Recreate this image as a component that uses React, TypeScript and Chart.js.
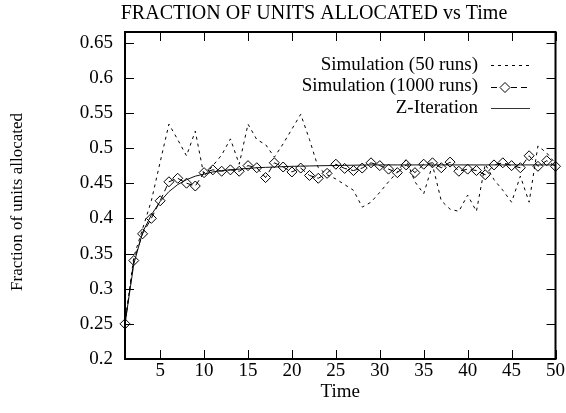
import React, { useEffect, useRef } from "react";
import { Chart, registerables } from "chart.js";

Chart.register(...registerables);

const chartTitle = "FRACTION OF UNITS ALLOCATED vs Time";
const xTitle = "Time";
const yTitle = "Fraction of units allocated";

const time = [1, 2, 3, 4, 5, 6, 7, 8, 9, 10, 11, 12, 13, 14, 15, 16, 17, 18, 19, 20, 21, 22, 23, 24, 25, 26, 27, 28, 29, 30, 31, 32, 33, 34, 35, 36, 37, 38, 39, 40, 41, 42, 43, 44, 45, 46, 47, 48, 49, 50];

const sim50 = [
  0.25, 0.345, 0.385, 0.425, 0.48, 0.534, 0.512, 0.489, 0.524, 0.46,
  0.475, 0.49, 0.513, 0.477, 0.534, 0.512, 0.505, 0.487, 0.506, 0.527,
  0.548, 0.512, 0.472, 0.462, 0.456, 0.448, 0.44, 0.416, 0.423, 0.437,
  0.452, 0.466, 0.484, 0.452, 0.435, 0.476, 0.425, 0.413, 0.41, 0.433,
  0.41, 0.477, 0.455, 0.44, 0.423, 0.46, 0.423, 0.503, 0.493, 0.478,
];

const sim1000 = [
  0.25, 0.34, 0.378, 0.4, 0.425, 0.452, 0.457, 0.45, 0.446, 0.465,
  0.469, 0.467, 0.469, 0.467, 0.475, 0.472, 0.458, 0.479, 0.473, 0.466,
  0.4715, 0.461, 0.457, 0.464, 0.477, 0.471, 0.468, 0.4715, 0.479, 0.475,
  0.47, 0.465, 0.476, 0.465, 0.477, 0.479, 0.472, 0.48, 0.467, 0.47,
  0.468, 0.462, 0.476, 0.479, 0.475, 0.472, 0.489, 0.474, 0.482, 0.474,
];

const zIter = [
  0.25, 0.335, 0.38, 0.405, 0.424, 0.438, 0.448, 0.455, 0.46, 0.463,
  0.466, 0.468, 0.469, 0.47, 0.471, 0.472, 0.4725, 0.473, 0.4735, 0.474,
  0.4742, 0.4745, 0.4748, 0.475, 0.4752, 0.4754, 0.4756, 0.4758, 0.476, 0.476,
  0.476, 0.476, 0.476, 0.476, 0.476, 0.476, 0.476, 0.476, 0.476, 0.476,
  0.476, 0.476, 0.476, 0.476, 0.476, 0.476, 0.476, 0.476, 0.476, 0.476,
];

const seriesNames = ["Simulation (50 runs)", "Simulation (1000 runs)", "Z-Iteration"];

const xTicks = [5, 10, 15, 20, 25, 30, 35, 40, 45, 50];
const yTicks = [0.2, 0.25, 0.3, 0.35, 0.4, 0.45, 0.5, 0.55, 0.6, 0.65];
const yTickLabels = ["0.2", "0.25", "0.3", "0.35", "0.4", "0.45", "0.5", "0.55", "0.6", "0.65"];

const FONT = "'Liberation Serif', 'DejaVu Serif', serif";

const framePlugin = {
  id: "gnuframe",
  afterDraw(chart: any) {
    const { ctx, chartArea: a, scales } = chart;
    const x = scales.x;
    const y = scales.y;
    ctx.save();
    ctx.strokeStyle = "#000";
    ctx.lineWidth = 1;
    ctx.setLineDash([]);
    const tl = 9;
    ctx.beginPath();
    for (const v of xTicks) {
      const px = Math.round(x.getPixelForValue(v)) + 0.5;
      ctx.moveTo(px, a.bottom);
      ctx.lineTo(px, a.bottom - tl);
      ctx.moveTo(px, a.top);
      ctx.lineTo(px, a.top + tl);
    }
    for (const v of yTicks) {
      const py = Math.round(y.getPixelForValue(v)) + 0.5;
      ctx.moveTo(a.left, py);
      ctx.lineTo(a.left + tl, py);
      ctx.moveTo(a.right, py);
      ctx.lineTo(a.right - tl, py);
    }
    ctx.stroke();
    ctx.lineWidth = 2;
    ctx.strokeRect(a.left, a.top, a.right - a.left, a.bottom - a.top);

    // titles
    ctx.fillStyle = "#000";
    ctx.font = `20px ${FONT}`;
    ctx.textAlign = "center";
    ctx.textBaseline = "middle";
    ctx.fillText(chartTitle, 314, 14);
    ctx.font = `19px ${FONT}`;
    ctx.fillText(xTitle, (a.left + a.right) / 2, 392);
    ctx.save();
    ctx.translate(18, 202);
    ctx.rotate(-Math.PI / 2);
    ctx.font = `17px ${FONT}`;
    ctx.fillText(yTitle, 0, 0);
    ctx.restore();

    // legend
    const textRight = 478;
    const s0 = 491;
    const s1 = 530;
    const rows = [65, 86.5, 108];
    const dashes = [[3, 4], [6, 4], []];
    ctx.font = `19px ${FONT}`;
    ctx.textAlign = "right";
    chart.data.datasets.forEach((ds: any, i: number) => {
      const ry = rows[i];
      ctx.fillStyle = "#000";
      ctx.fillText(seriesNames[i], textRight, ry);
      ctx.save();
      ctx.strokeStyle = i === 2 ? "#333" : "#000";
      ctx.lineWidth = 1;
      ctx.setLineDash(dashes[i]);
      ctx.beginPath();
      ctx.moveTo(s0, Math.round(ry) + 0.5);
      ctx.lineTo(s1, Math.round(ry) + 0.5);
      ctx.stroke();
      ctx.restore();
      if (i === 1) {
        const cx = 505;
        const cy = Math.round(ry) + 0.5;
        const r = 5;
        ctx.save();
        ctx.fillStyle = "#fff";
        ctx.strokeStyle = "#000";
        ctx.lineWidth = 1;
        ctx.setLineDash([]);
        ctx.beginPath();
        ctx.moveTo(cx - r, cy);
        ctx.lineTo(cx, cy - r);
        ctx.lineTo(cx + r, cy);
        ctx.lineTo(cx, cy + r);
        ctx.closePath();
        ctx.fill();
        ctx.stroke();
        ctx.restore();
      }
    });
    ctx.restore();
  },
};

export default function App() {
  const ref = useRef<HTMLCanvasElement | null>(null);

  useEffect(() => {
    if (!ref.current) return;
    Chart.defaults.font.family = FONT;
    Chart.defaults.color = "#000";
    const toXY = (arr: number[]) => arr.map((v, i) => ({ x: time[i], y: v }));
    const chart = new Chart(ref.current, {
      type: "line",
      data: {
        datasets: [
          {
            label: seriesNames[0],
            data: toXY(sim50),
            borderColor: "#000",
            borderWidth: 1,
            borderDash: [3, 4],
            pointRadius: 0,
            fill: false,
          },
          {
            label: seriesNames[1],
            data: toXY(sim1000),
            borderColor: "#000",
            borderWidth: 1,
            borderDash: [6, 4],
            pointStyle: "rectRot",
            pointRadius: 5,
            pointBorderWidth: 1,
            pointBorderColor: "#000",
            pointBackgroundColor: "rgba(0,0,0,0)",
            fill: false,
            clip: false,
          },
          {
            label: seriesNames[2],
            data: toXY(zIter),
            borderColor: "#111",
            borderWidth: 1,
            pointRadius: 0,
            fill: false,
          },
        ],
      },
      options: {
        animation: false,
        responsive: false,
        maintainAspectRatio: false,
        layout: { padding: { top: 32, right: 10, left: 0, bottom: 0 } },
        plugins: {
          legend: { display: false },
          title: { display: false },
          tooltip: { enabled: false },
        },
        scales: {
          x: {
            type: "linear",
            min: 1,
            max: 50,
            grid: { display: false, drawTicks: false },
            border: { display: false },
            afterFit: (s: any) => {
              s.height = 54;
            },
            afterBuildTicks: (s: any) => {
              s.ticks = xTicks.map((v) => ({ value: v }));
            },
            ticks: {
              font: { size: 19, family: FONT },
              color: "#000",
              padding: 1,
              maxRotation: 0,
              autoSkip: false,
              callback: (v: any) => String(v),
            },
          },
          y: {
            type: "linear",
            min: 0.2,
            max: 0.665,
            grid: { display: false, drawTicks: false },
            border: { display: false },
            afterFit: (s: any) => {
              s.width = 125;
            },
            afterBuildTicks: (s: any) => {
              s.ticks = yTicks.map((v) => ({ value: v }));
            },
            ticks: {
              font: { size: 19, family: FONT },
              color: "#000",
              padding: 12,
              autoSkip: false,
              callback: (v: any) => {
                const idx = yTicks.findIndex((t) => Math.abs(t - v) < 1e-6);
                return idx >= 0 ? yTickLabels[idx] : "";
              },
            },
          },
        },
      },
      plugins: [framePlugin],
    });
    return () => chart.destroy();
  }, []);

  return (
    <div style={{ position: "fixed", left: 0, top: 0, width: 566, height: 413, background: "#fff" }}>
      <canvas ref={ref} width={566} height={413} style={{ width: 566, height: 413, display: "block" }} />
    </div>
  );
}
